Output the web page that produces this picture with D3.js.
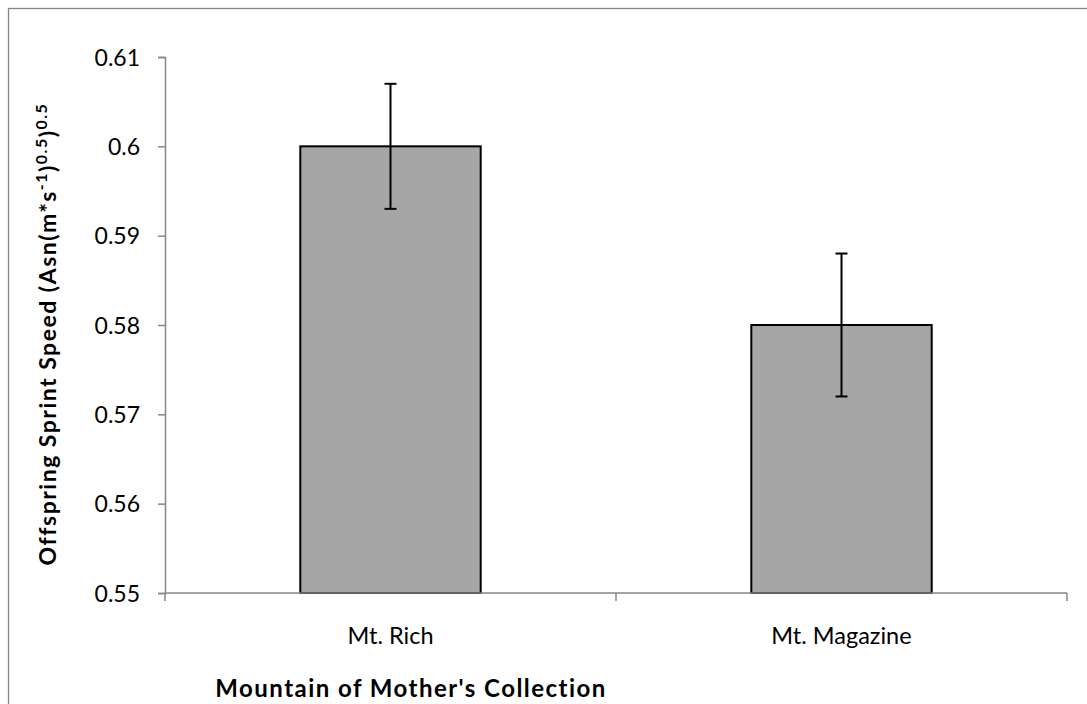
<!DOCTYPE html>
<html>
<head>
<meta charset="utf-8">
<script src="https://cdn.jsdelivr.net/npm/d3@7"></script>
<style>
  html, body { margin: 0; padding: 0; background: #fff; }
  svg { display: block; }
  text { font-family: Lato, "Open Sans", sans-serif; fill: #000; }
</style>
</head>
<body>
<svg id="chart" width="1087" height="704"></svg>
<script>
// Mean offspring sprint speed by the mountain where the mother was collected
const categories = ["Mt. Rich", "Mt. Magazine"];
const means = [0.600, 0.580];
const errLow = [0.593, 0.572];
const errHigh = [0.607, 0.588];
const yTicks = [0.55, 0.56, 0.57, 0.58, 0.59, 0.60, 0.61];

const svg = d3.select("#chart");
const W = 1087, H = 704;
const m = { left: 165, right: 1067, top: 57, bottom: 593 };
const axisColor = "#868686";

// outer frame of the chart area
svg.append("rect")
  .attr("x", 8.5).attr("y", 8.5)
  .attr("width", W).attr("height", H)
  .attr("fill", "none").attr("stroke", axisColor).attr("stroke-width", 1.3);

const x = d3.scaleBand().domain(categories)
  .range([m.left, m.right]).paddingInner(0.6).paddingOuter(0.3);
const y = d3.scaleLinear().domain([0.55, 0.61]).range([m.bottom, m.top]);

// bars
svg.append("g").selectAll("rect").data(categories).join("rect")
  .attr("x", d => x(d))
  .attr("y", (d, i) => y(means[i]))
  .attr("width", x.bandwidth())
  .attr("height", (d, i) => y(0.55) - y(means[i]))
  .attr("fill", "#a6a6a6")
  .attr("stroke", "#000").attr("stroke-width", 2);

// y axis
const yAxis = svg.append("g").attr("transform", `translate(${m.left},0)`)
  .call(d3.axisLeft(y).tickValues(yTicks).tickSize(7).tickPadding(18)
    .tickFormat(d => String(+d.toFixed(2))));
yAxis.select(".domain").attr("stroke", axisColor).attr("stroke-width", 1.5);
yAxis.selectAll(".tick line").attr("stroke", axisColor).attr("stroke-width", 1.5);
yAxis.selectAll(".tick text").style("font-size", "23px").attr("dy", "0.36em");

// x axis: line with dividing ticks at band boundaries
const xg = svg.append("g");
xg.append("line")
  .attr("x1", m.left).attr("x2", m.right)
  .attr("y1", y(0.55)).attr("y2", y(0.55))
  .attr("stroke", axisColor).attr("stroke-width", 1.5);
const step = x.step();
const bounds = [m.left, m.left + step, m.left + 2 * step];
xg.selectAll("line.tk").data(bounds).join("line").attr("class", "tk")
  .attr("x1", d => d).attr("x2", d => d)
  .attr("y1", y(0.55)).attr("y2", y(0.55) + 8)
  .attr("stroke", axisColor).attr("stroke-width", 1.5);
xg.selectAll("text").data(categories).join("text")
  .attr("x", d => x(d) + x.bandwidth() / 2)
  .attr("y", 644)
  .attr("text-anchor", "middle")
  .style("font-size", "23.5px")
  .text(d => d);

// error bars
const eg = svg.append("g").attr("stroke", "#000").attr("stroke-width", 2);
categories.forEach((c, i) => {
  const cx = x(c) + x.bandwidth() / 2;
  eg.append("line").attr("x1", cx).attr("x2", cx)
    .attr("y1", y(errLow[i])).attr("y2", y(errHigh[i]));
  [errLow[i], errHigh[i]].forEach(v => {
    eg.append("line").attr("x1", cx - 6).attr("x2", cx + 6)
      .attr("y1", y(v)).attr("y2", y(v));
  });
});

// axis titles
svg.append("text")
  .attr("x", 411).attr("y", 697)
  .attr("text-anchor", "middle")
  .style("font-size", "24px").style("font-weight", "bold")
  .style("letter-spacing", "1.45px")
  .text("Mountain of Mother's Collection");

const yt = svg.append("text")
  .attr("transform", `translate(56,334) rotate(-90)`)
  .attr("text-anchor", "middle")
  .style("font-size", "23px").style("font-weight", "bold")
  .style("letter-spacing", "1.5px");
yt.append("tspan").text("Offspring Sprint Speed (Asn(m*s");
yt.append("tspan").attr("baseline-shift", "super").style("font-size", "16px").text("-1");
yt.append("tspan").text(")");
yt.append("tspan").attr("baseline-shift", "super").style("font-size", "16px").text("0.5");
yt.append("tspan").text(")");
yt.append("tspan").attr("baseline-shift", "super").style("font-size", "16px").text("0.5");
</script>
</body>
</html>
